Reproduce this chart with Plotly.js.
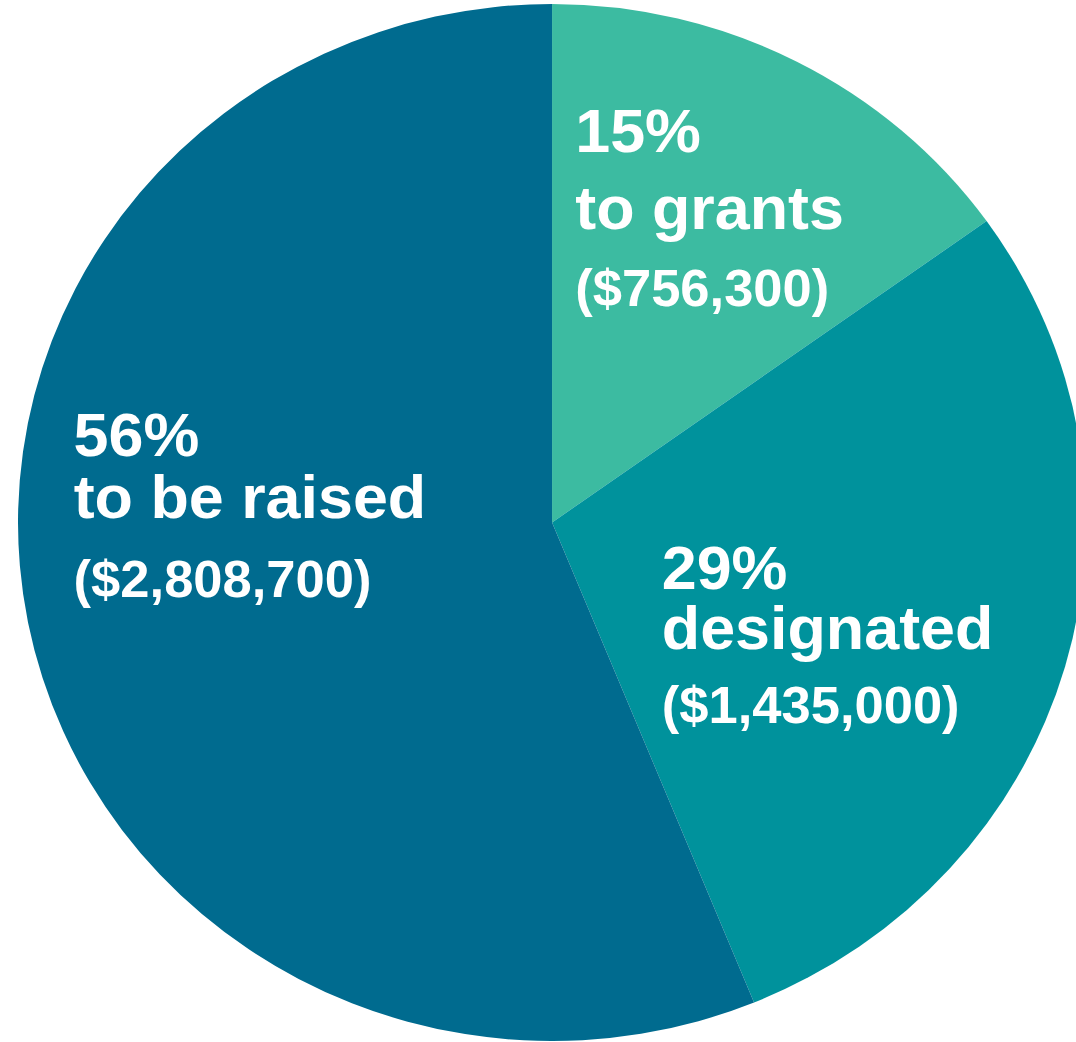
<!DOCTYPE html>
<html>
<head>
<meta charset="utf-8">
<script src="https://cdn.plot.ly/plotly-3.0.1.min.js"></script>
<style>
  html, body { margin: 0; padding: 0; background: #ffffff; overflow: hidden; width: 1076px; height: 1042px; }
  #chart { position: absolute; left: 18px; top: 4px; width: 1037px; height: 1037px; transform: scaleX(1.03); transform-origin: 0 0; }
</style>
</head>
<body>
<div id="chart"></div>
<script>
// ---- data ----
var categories = ["to grants", "designated", "to be raised"];
var amounts = [756300, 1435000, 2808700];
var colors = ["#3CBBA1", "#00929C", "#006B8F"];

// ---- label placement (paper coords, left edge, line middles) ----
var labelX = [0.5196, 0.6011, 0.0506];
var labelY = [[0.8771, 0.8033, 0.7261], [0.4561, 0.3983, 0.3240], [0.5839, 0.5246, 0.4446]];

var total = amounts.reduce(function (a, b) { return a + b; }, 0);
function fmt(n) { return n.toString().replace(/\B(?=(\d{3})+(?!\d))/g, ","); }

var annotations = [];
var fontFamily = "Liberation Sans, Arial, Helvetica, sans-serif";
for (var i = 0; i < categories.length; i++) {
  var lines = [Math.round(amounts[i] / total * 100) + "%", categories[i], "($" + fmt(amounts[i]) + ")"];
  var sizes = [61, 61, 51];
  for (var j = 0; j < 3; j++) {
    annotations.push({
      xref: "paper", yref: "paper",
      x: labelX[i], y: labelY[i][j],
      xanchor: "left", yanchor: "middle",
      text: lines[j], showarrow: false,
      font: { family: fontFamily, size: sizes[j], color: "#ffffff", weight: 700 }
    });
  }
}

var trace = {
  type: "pie",
  labels: categories,
  values: amounts,
  sort: false,
  direction: "clockwise",
  rotation: 0,
  textinfo: "none",
  hoverinfo: "none",
  marker: { colors: colors, line: { width: 0 } },
  domain: { x: [0, 1], y: [0, 1] }
};

var layout = {
  width: 1037, height: 1037,
  margin: { l: 0, r: 0, t: 0, b: 0, pad: 0 },
  paper_bgcolor: "rgba(0,0,0,0)",
  plot_bgcolor: "rgba(0,0,0,0)",
  showlegend: false,
  annotations: annotations
};

Plotly.newPlot("chart", [trace], layout, { displayModeBar: false, staticPlot: true });
</script>
</body>
</html>
